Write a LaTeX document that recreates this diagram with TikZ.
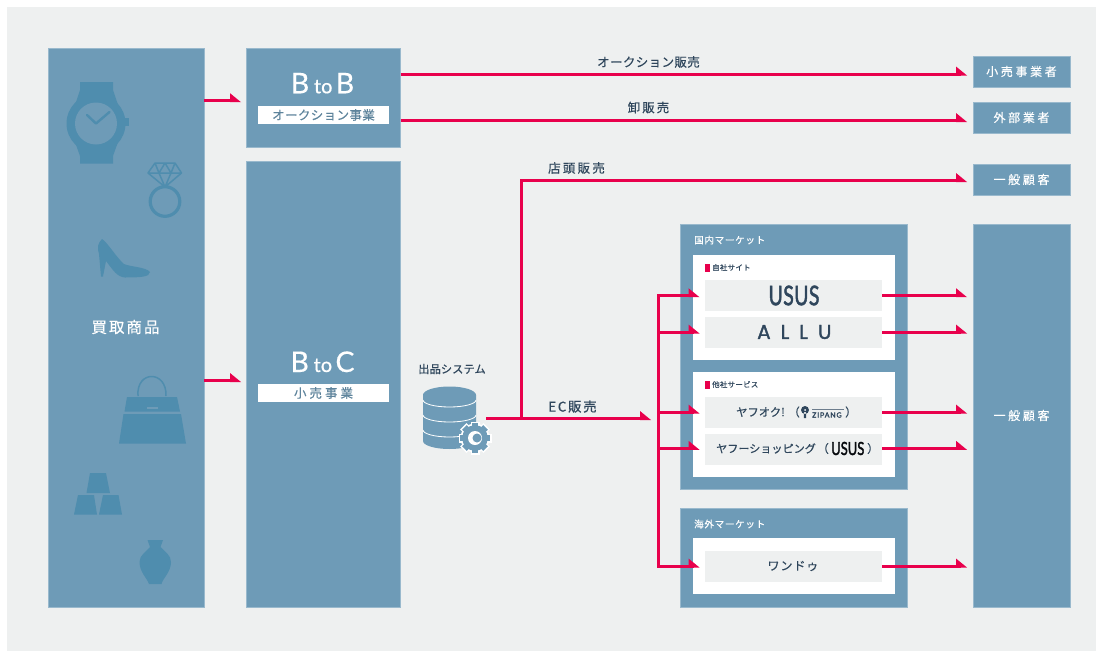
\documentclass[tikz,border=0pt]{standalone}
\usepackage{fontspec}
\usetikzlibrary{arrows.meta,calc}
\setmainfont{Noto Sans CJK JP}[FakeBold=0.3]
\newfontfamily\latin{Lato}[FakeBold=0.4]
\newfontfamily\logo{Lato}[FakeBold=2.2]
\newfontfamily\logoa{Poppins}[FakeBold=1.5]
\newcommand{\lsp}[1]{\addfontfeature{LetterSpace=#1}}
\definecolor{bgc}{HTML}{EEF0F0}
\definecolor{bluec}{HTML}{6E9BB7}
\definecolor{iconc}{HTML}{4F8DAE}
\definecolor{redc}{HTML}{E8004C}
\definecolor{textc}{HTML}{2F465C}
\pgfdeclarearrow{
  name=HalfHead,
  setup code={
    \pgfarrowssettipend{0pt}
    \pgfarrowssetlineend{-6pt}
    \pgfarrowssetbackend{-11pt}
    \pgfarrowssetvisualbackend{-11pt}
    \pgfarrowshullpoint{0pt}{-1.5pt}
    \pgfarrowshullpoint{-11pt}{7.5pt}
    \pgfarrowshullpoint{-11pt}{-1.5pt}
  },
  drawing code={
    \pgfpathmoveto{\pgfpoint{0pt}{-1.5pt}}
    \pgfpathlineto{\pgfpoint{-11pt}{7.5pt}}
    \pgfpathlineto{\pgfpoint{-11pt}{-1.5pt}}
    \pgfpathclose
    \pgfusepathqfill
  }
}
\tikzset{
  box/.style={fill=bluec,draw=bluec!70!white,line width=.4pt},
  whitebox/.style={fill=white},
  greybox/.style={fill=bgc},
  icon/.style={fill=iconc,draw=none},
  iconl/.style={draw=iconc,fill=none},
  red/.style={draw=redc,line width=3pt},
  redarrow/.style={red,-{HalfHead}},
  tlabel/.style={text=textc,inner sep=0pt},
  wlabel/.style={text=white,inner sep=0pt},
  custlabel/.style={text=white,font=\fontsize{12}{12}\selectfont\lsp{22}},
  rect/.style args={#1/#2}{minimum width=#1pt,minimum height=#2pt,inner sep=0pt,outer sep=0pt,rectangle},
}
\begin{document}
\begin{tikzpicture}[x=1pt,y=-1pt]
\useasboundingbox (0,0) rectangle (1096,651);
\fill[white] (0,0) rectangle (1096,651);
\fill[bgc] (7,7) rectangle (1096,651);
% main boxes
\node[box,rect=156/559,anchor=north west] (buy) at (48,48) {};
\node[box,rect=154/99,anchor=north west] (btb) at (246.5,48) {};
\node[box,rect=154/446,anchor=north west] (btc) at (246.5,161) {};
\node[wlabel,font=\fontsize{15.5}{15}\selectfont\lsp{13}] (buyt) at (125.5,327) {買取商品};
\node[wlabel,anchor=base] (btbt) at (322.5,93.3) {\latin\fontsize{28.5}{29}\selectfont B\,\fontsize{20}{20}\selectfont to\,\fontsize{28.5}{29}\selectfont B};
\node[whitebox,rect=131/18] (btbl) at (323.5,115) {};
\node[inner sep=0pt,text=bluec!85!black,font=\fontsize{12.5}{12.5}\selectfont\lsp{3}] (btbll) at (323.5,115) {オークション事業};
\node[wlabel,anchor=base] (btct) at (322.5,372) {\latin\fontsize{28.5}{29}\selectfont B\,\fontsize{20}{20}\selectfont to\,\fontsize{28.5}{29}\selectfont C};
\node[whitebox,rect=131/18] (btcl) at (323.5,393) {};
\node[inner sep=0pt,text=bluec!85!black,font=\fontsize{12.5}{12.5}\selectfont\lsp{24}] (btcll) at (323.5,393) {小売事業};
% right boxes
\node[box,rect=97/31,anchor=north west,custlabel] (c1) at (973,56) {小売事業者};
\node[box,rect=97/31,anchor=north west,custlabel] (c2) at (973,102) {外部業者};
\node[box,rect=97/31,anchor=north west,custlabel] (c3) at (973,164) {一般顧客};
\node[box,rect=97/383,anchor=north west,custlabel] (c4) at (973,224) {一般顧客};
% markets
\node[box,rect=227/265.5,anchor=north west] (dom) at (680.5,224) {};
\node[box,rect=227/99.5,anchor=north west] (ovs) at (680.5,508) {};
\node[wlabel,anchor=west,font=\fontsize{9.5}{10}\selectfont\lsp{8}] (domt) at (694,240) {国内マーケット};
\node[wlabel,anchor=west,font=\fontsize{9.5}{10}\selectfont\lsp{8}] (ovst) at (694,524) {海外マーケット};
\node[whitebox,rect=202/105,anchor=north west] (w1) at (693,255) {};
\node[whitebox,rect=202/105,anchor=north west] (w2) at (693,372) {};
\node[whitebox,rect=202/56,anchor=north west] (w3) at (693,538) {};
\fill[redc] (705,263.5) rectangle (709.5,271.5);
\fill[redc] (705,380.5) rectangle (709.5,388.5);
\node[anchor=west,inner sep=0pt,text=textc,font=\fontsize{7.5}{8}\selectfont\lsp{3}] (w1t) at (712,267.5) {自社サイト};
\node[anchor=west,inner sep=0pt,text=textc,font=\fontsize{7.5}{8}\selectfont\lsp{3}] (w2t) at (712,384.5) {他社サービス};
\node[greybox,rect=177/31,anchor=north west] (usus) at (705,280) {};
\node[greybox,rect=177/31,anchor=north west] (allu) at (705,317) {};
\node[greybox,rect=177/31,anchor=north west] (yah) at (705,397) {};
\node[greybox,rect=177/31,anchor=north west] (shop) at (705,433.5) {};
\node[greybox,rect=177/31,anchor=north west] (wan) at (705,551) {};
\node[inner sep=0pt,text=textc] (ususl) at (794,295.5) {\scalebox{.72}[1]{\logo\fontsize{27}{27}\selectfont\lsp{2}USUS}};
\node[inner sep=0pt,text=textc,anchor=west] (allul) at (757,332) {\logoa\fontsize{20}{20}\selectfont\lsp{50}ALLU};
\node[inner sep=0pt,text=textc,font=\fontsize{11.3}{13}\selectfont,anchor=west] (yahl) at (736,412) {ヤフオク!};
\node[inner sep=0pt,text=textc,font=\fontsize{11.5}{13}\selectfont,anchor=east] (yahp) at (800,412) {（};
\node[inner sep=0pt,text=textc,font=\fontsize{11.5}{13}\selectfont,anchor=west] (yahr) at (845,412) {）};
\fill[textc] (805,410) circle (4) (803.8,412) rectangle (806.2,418);
\fill[white] (805,410) circle (1);
\node[inner sep=0pt,text=textc,font=\logo\fontsize{7}{8}\selectfont\lsp{12},anchor=west] (zip) at (812,415) {ZIPANG};
\fill[textc!70!white] (812,408.5) rectangle (844,410);
\node[inner sep=0pt,text=textc,font=\fontsize{11.1}{13}\selectfont,anchor=west] (shopl) at (716,448.5) {ヤフーショッピング};
\node[inner sep=0pt,text=textc,font=\fontsize{11.5}{13}\selectfont,anchor=east] (shopp) at (829,448.5) {（};
\node[inner sep=0pt,text=black!85!textc,anchor=west] (shopm) at (831,448.5) {\scalebox{.72}[1]{\logo\fontsize{18}{18}\selectfont USUS}};
\node[inner sep=0pt,text=textc,font=\fontsize{11.5}{13}\selectfont,anchor=west] (shopr) at (867,448.5) {）};
\node[inner sep=0pt,text=textc,font=\fontsize{12}{13}\selectfont\lsp{8}] (wanl) at (793,566) {ワンドゥ};
% text labels
\node[tlabel,font=\fontsize{12.5}{12}\selectfont\lsp{3}] (l1) at (648.5,62) {オークション販売};
\node[tlabel,font=\fontsize{12.5}{12}\selectfont\lsp{16}] (l2) at (648.5,107.5) {卸販売};
\node[tlabel,font=\fontsize{12.5}{12}\selectfont\lsp{18}] (l3) at (576.5,168) {店頭販売};
\node[tlabel,font=\fontsize{13.5}{12}\selectfont\lsp{12}] (l4) at (572.5,406.5) {EC販売};
\node[tlabel,font=\fontsize{11.3}{11}\selectfont] (l5) at (452,369) {出品システム};
% database icon
\begin{scope}
\fill[bluec] (423,395) -- (476,395) -- (476,441) arc[start angle=0,end angle=180,x radius=26.5,y radius=8] -- cycle;
\fill[bluec] (449.5,395) ellipse[x radius=26.5,y radius=8.5];
\foreach \yy in {400,415,430}
  \draw[white,line width=.8pt] (423,\yy) arc[start angle=180,end angle=0,x radius=26.5,y radius=7];
\foreach \a in {0,45,...,315}
  \fill[white,rotate around={\a:(475,438)}] (470.5,421.5) rectangle (479.5,431);
\fill[white] (475,438) circle (14.5);
\foreach \a in {0,45,...,315}
  \fill[bluec,rotate around={\a:(475,438)}] (471.8,423) rectangle (478.2,431);
\fill[bluec] (475,438) circle (12.8);
\fill[white] (475,438) circle (7);
\fill[bluec] (477,438) circle (4.5);
\end{scope}
% connectors
\coordinate (a1) at (241,100.7);
\coordinate (a2) at (241,380.5);
\draw[redarrow] (buy.east |- a1) -- (a1);
\draw[redarrow] (buy.east |- a2) -- (a2);
\coordinate (r1) at (967,74);
\coordinate (r2) at (967,120.5);
\coordinate (r3) at (967,180.5);
\draw[redarrow] (btb.east |- r1) -- (r1);
\draw[redarrow] (btb.east |- r2) -- (r2);
\coordinate (ds) at (486,418.5);
\coordinate (de) at (651,418.5);
\coordinate (st) at (521.7,418.5);
\coordinate (vb) at (658.5,418.5);
\draw[redarrow] (ds) -- (de);
\draw[redarrow] (st) -- (st |- r3) -- (r3);
\coordinate (tu) at (699.5,295.7);
\coordinate (ta) at (699.5,332);
\coordinate (ty) at (699.5,412);
\coordinate (ts) at (699.5,448.3);
\coordinate (tw) at (699.5,566);
\draw[redarrow] (vb |- tu) -- (tu);
\draw[redarrow] (vb |- ta) -- (ta);
\draw[redarrow] (vb |- ty) -- (ty);
\draw[redarrow] (vb |- ts) -- (ts);
\draw[redarrow] (vb |- tw) -- (tw);
\draw[red] ($(vb |- tu)+(0,-1.5)$) -- ($(vb |- tw)+(0,1.5)$);
\coordinate (ee) at (967,0);
\draw[redarrow] (usus.east |- tu) -- (ee |- tu);
\draw[redarrow] (allu.east |- ta) -- (ee |- ta);
\draw[redarrow] (yah.east |- ty) -- (ee |- ty);
\draw[redarrow] (shop.east |- ts) -- (ee |- ts);
\draw[redarrow] (wan.east |- tw) -- (ee |- tw);
% watch
\fill[icon] (80,82) -- (113,82) -- (113,90) -- (118,105) -- (75,105) -- (80,90) -- cycle;
\fill[icon] (80,163.5) -- (113,163.5) -- (113,156) -- (118,142) -- (75,142) -- (80,156) -- cycle;
\fill[icon] (96,123.5) circle (29.5);
\fill[icon] (123,118) rectangle (128.5,126);
\fill[bluec] (96,123.5) circle (21);
\draw[iconc,line width=2.4pt,line cap=round,line join=round] (87,115) -- (96,123.5) -- (109.5,112);
% ring
\draw[iconl,line width=1.5pt,line join=round] (155,163) -- (175,163) -- (181.5,173) -- (165,187) -- (148,173) -- cycle (148,173) -- (181.5,173) (155,163) -- (159,173) -- (165,187) -- (171,173) -- (175,163) (159,173) -- (165,163) -- (171,173);
\draw[iconl,line width=3.2pt] (165,201.5) circle (14.8);
% shoe
\fill[icon] (102,239) .. controls (108,243) and (116,257) .. (124,264) .. controls (131,267) and (146,267) .. (150,272) .. controls (150,277) and (140,277.5) .. (125,277.5) .. controls (117,277) and (113,270) .. (106,261) -- (103,276.5) -- (101,276.5) -- (99,254) .. controls (97,247) and (98,243) .. (102,239) -- cycle;
% bag
\draw[iconc,line width=1.5pt] (138,396) .. controls (136,370) and (167,370) .. (166,396);
\fill[icon] (127,397) -- (177,397) -- (180,411.5) -- (124.5,411.5) -- cycle;
\fill[icon] (123.5,414) -- (181,414) -- (186,443.5) -- (119,443.5) -- cycle;
\fill[bluec] (147,406.5) rectangle (158,408.5);
% gold
\fill[icon] (90,473) -- (106,473) -- (110,493) -- (86.5,493) -- cycle;
\fill[icon] (78,495) -- (94,495) -- (97,514.5) -- (74,514.5) -- cycle;
\fill[icon] (103,495) -- (118.5,495) -- (122,514.5) -- (99,514.5) -- cycle;
% vase
\fill[icon] (147.5,540) -- (163,540) -- (160.5,547) .. controls (165,552) and (171,555) .. (171,562) .. controls (171,572) and (163,578) .. (161.5,584) -- (149,584) .. controls (147,578) and (139.5,572) .. (139.5,562) .. controls (139.5,555) and (146,552) .. (150,547) -- cycle;
\end{tikzpicture}
\end{document}
